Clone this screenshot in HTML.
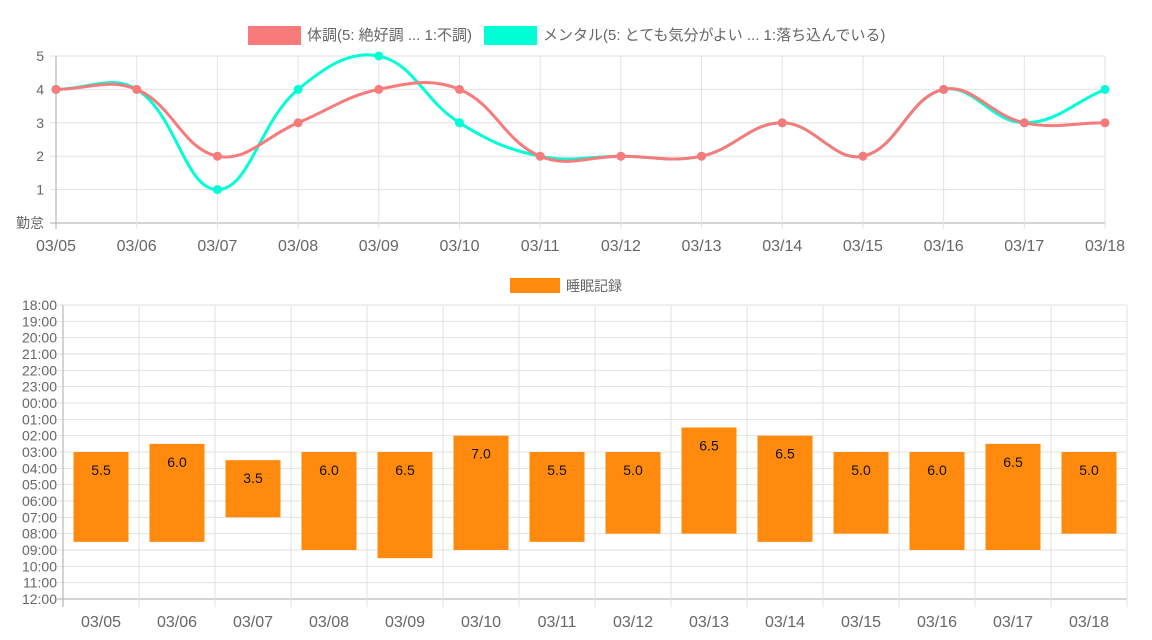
<!DOCTYPE html>
<html><head><meta charset="utf-8">
<style>
body{margin:0;background:#fff;font-family:"Liberation Sans","Noto Sans CJK JP",sans-serif;}
svg text{font-family:"Liberation Sans","Noto Sans CJK JP",sans-serif;}
</style></head>
<body>
<svg id="c" width="1152" height="635"></svg>
<script>
const dates=["03/05","03/06","03/07","03/08","03/09","03/10","03/11","03/12","03/13","03/14","03/15","03/16","03/17","03/18"];
const bodyVals=[4,4,2,3,4,4,2,2,2,3,2,4,3,3];
const mentalVals=[4,4,1,4,5,3,2,2,2,3,2,4,3,4];
const yTicksTop=["勤怠","1","2","3","4","5"];
const sleepStart=[3,2.5,3.5,3,3,2,3,3,1.5,2,3,3,2.5,3]; // clock hours (after midnight)
const sleepEnd=[8.5,8.5,7,9,9.5,9,8.5,8,8,8.5,8,9,9,8];
const sleepLabels=["5.5","6.0","3.5","6.0","6.5","7.0","5.5","5.0","6.5","6.5","5.0","6.0","6.5","5.0"];
const timeTicks=["18:00","19:00","20:00","21:00","22:00","23:00","00:00","01:00","02:00","03:00","04:00","05:00","06:00","07:00","08:00","09:00","10:00","11:00","12:00"];

const svg=document.getElementById('c');
const NS="http://www.w3.org/2000/svg";
function mk(t,a,p){const e=document.createElementNS(NS,t);for(const k in a)e.setAttribute(k,a[k]);(p||svg).appendChild(e);return e;}

// ---- top chart
const tx0=56,tx1=1105,ty0=223,ty1=56;
const xT=i=>tx0+i*(tx1-tx0)/(dates.length-1);
const yT=v=>ty0-v*(ty0-ty1)/5;
const gTop=mk('g',{});


yTicksTop.forEach((t,i)=>{
  const l=mk('line',{x1:tx0-6,x2:tx1,y1:yT(i),y2:yT(i),stroke:i==0?'#aaa':'#e2e2e2','stroke-width':1},gTop);
  
  
  const tt=mk('text',{x:tx0-12,y:yT(i)+5,'text-anchor':'end','font-size':14,fill:'#666'},gTop);
  tt.textContent=t;
  
  
});
dates.forEach((d,i)=>{
  const l=mk('line',{x1:xT(i),x2:xT(i),y1:ty1,y2:ty0+6,stroke:i==0?'#aaa':'#e2e2e2'},gTop);
  
  
  const t=mk('text',{x:xT(i),y:251,'text-anchor':'middle','font-size':16,fill:'#666'},gTop);
  t.textContent=d;
  
  
});
function spline(pts,ten){
  let d=`M${pts[0][0]},${pts[0][1]}`;
  const cps=pts.map((p,i)=>{
    const prev=pts[Math.max(0,i-1)],next=pts[Math.min(pts.length-1,i+1)];
    const d01=Math.hypot(p[0]-prev[0],p[1]-prev[1]),d12=Math.hypot(next[0]-p[0],next[1]-p[1]);
    let fa=d01/(d01+d12)||0,fb=d12/(d01+d12)||0;fa*=ten;fb*=ten;
    return [[p[0]-fa*(next[0]-prev[0]),p[1]-fa*(next[1]-prev[1])],[p[0]+fb*(next[0]-prev[0]),p[1]+fb*(next[1]-prev[1])]];
  });
  for(let i=1;i<pts.length;i++){d+=` C${cps[i-1][1][0]},${cps[i-1][1][1]} ${cps[i][0][0]},${cps[i][0][1]} ${pts[i][0]},${pts[i][1]}`;}
  return d;
}
function series(vals,color,name){
  const pts=vals.map((v,i)=>[xT(i),yT(v)]);
  const p=mk('path',{d:spline(pts,0.4),fill:'none',stroke:color,'stroke-width':3},gTop);
  
  
  pts.forEach(q=>{
    const c=mk('circle',{cx:q[0],cy:q[1],r:4.5,fill:color},gTop);
    
    
  });
}
series(mentalVals,'#00ffd5','mental');
series(bodyVals,'#f87a7a','body');
// legend top
const lg=mk('g',{});


mk('rect',{x:248,y:26,width:53,height:19,fill:'#f87a7a'},lg);
let lt=mk('text',{x:307,y:40,'font-size':15,fill:'#666'},lg);lt.textContent='体調(5: 絶好調 ... 1:不調)';
mk('rect',{x:484,y:26,width:53,height:19,fill:'#00ffd5'},lg);
lt=mk('text',{x:543,y:40,'font-size':15,fill:'#666'},lg);lt.textContent='メンタル(5: とても気分がよい ... 1:落ち込んでいる)';

// ---- bottom chart
const bx0=63,bx1=1127,by0=305,by1=599;
const bw=(bx1-bx0)/dates.length;
const yB=h=>{let r=h<18?h+6:h-18;return by0+r*(by1-by0)/18;}; // clock hour -> y
const gB=mk('g',{});


timeTicks.forEach((t,i)=>{
  const y=by0+i*(by1-by0)/18;
  const l=mk('line',{x1:bx0-6,x2:bx1,y1:y,y2:y,stroke:i==18?'#aaa':'#e2e2e2'},gB);
  
  
  const tt=mk('text',{x:bx0-6,y:y+5,'text-anchor':'end','font-size':14,fill:'#666'},gB);
  tt.textContent=t;
  
  
});
for(let i=0;i<=dates.length;i++){
  const x=bx0+i*bw;
  const l=mk('line',{x1:x,x2:x,y1:by0,y2:by1+8,stroke:i==0?'#aaa':'#e2e2e2'},gB);
  
  
}
dates.forEach((d,i)=>{
  const cx=bx0+(i+0.5)*bw;
  const t=mk('text',{x:cx,y:627,'text-anchor':'middle','font-size':16,fill:'#666'},gB);
  t.textContent=d;
  
  
  const y1=yB(sleepStart[i]),y2=yB(sleepEnd[i]);
  const r=mk('rect',{x:cx-27.5,y:y1,width:55,height:y2-y1,fill:'#ff8a0d'},gB);
  
  
  const v=mk('text',{x:cx,y:y1+23,'text-anchor':'middle','font-size':14,fill:'#111'},gB);
  v.textContent=sleepLabels[i];
  
  
});
const lg2=mk('g',{});


mk('rect',{x:510,y:278,width:50,height:15,fill:'#ff8a0d'},lg2);
lt=mk('text',{x:566,y:291,'font-size':14,fill:'#666'},lg2);lt.textContent='睡眠記録';
</script>
</body></html>
